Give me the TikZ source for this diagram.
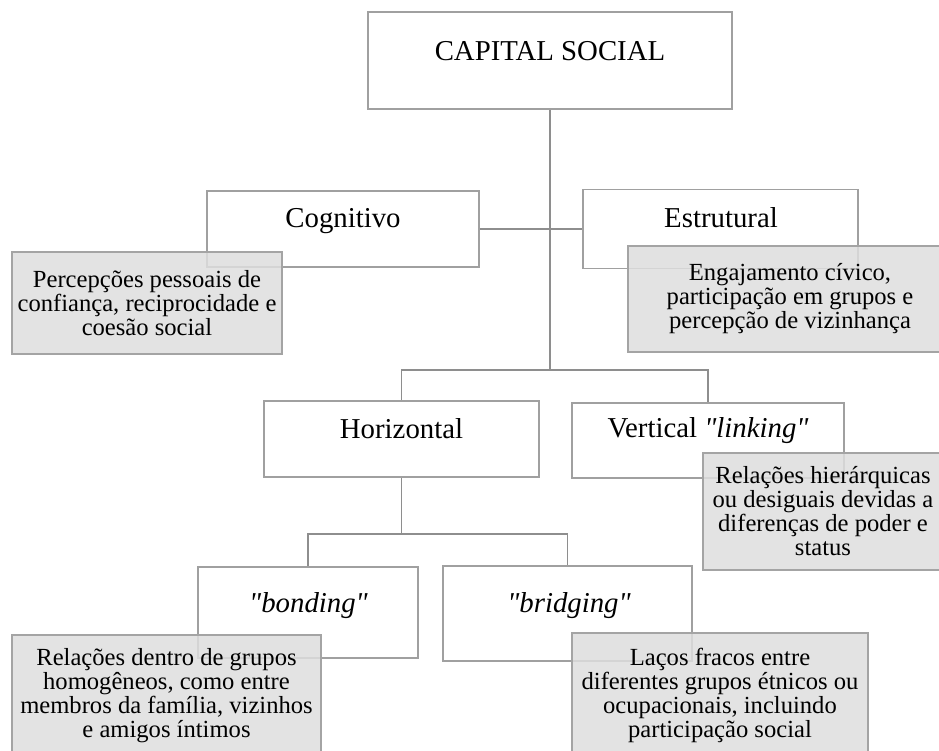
\documentclass[tikz,border=0pt]{standalone}
\usepackage{fontspec}
\setmainfont{Liberation Serif}
\newfontfamily\rawserif{Liberation Serif}
\definecolor{boxborder}{HTML}{A0A0A0}
\definecolor{linecol}{HTML}{8E8E8E}
\definecolor{descfill}{HTML}{DEDEDE}
\definecolor{descborder}{HTML}{A4A4A4}
\newcommand{\qq}[1]{{\rawserif\itshape\symbol{34}#1\symbol{34}}}
\tikzset{
  hbox/.style={draw=boxborder, fill=white, line width=1.8pt, rectangle, inner sep=0pt},
  htext/.style={anchor=base, inner sep=0pt, font=\fontsize{28.8}{30}\selectfont},
  desc/.style={draw=descborder, fill=descfill, fill opacity=0.85, text opacity=1,
    line width=1.8pt, rectangle, inner sep=0pt, align=center,
    font=\fontsize{24.6}{24}\selectfont},
  conn/.style={draw=linecol, line width=1.8pt}
}
\begin{document}
\begin{tikzpicture}[x=1pt,y=-1pt]
\useasboundingbox (0,0) rectangle (939,751);
\clip (0,0) rectangle (939,751);
% heading boxes
\node[hbox, minimum width=364, minimum height=97] (cap) at (550,60.5) {};
\node[hbox, minimum width=272, minimum height=76] (cog) at (343,229) {};
\node[hbox, minimum width=275, minimum height=79] (est) at (720.5,229) {};
\node[hbox, minimum width=275, minimum height=76] (hor) at (401.5,439) {};
\node[hbox, minimum width=272, minimum height=75] (ver) at (708,440.5) {};
\node[hbox, minimum width=220, minimum height=91] (bon) at (308,612.5) {};
\node[hbox, minimum width=249, minimum height=95] (bri) at (567.5,613.5) {};
% connectors
\coordinate (j1) at (550,370);
\coordinate (j2) at (401.5,534);
\draw[conn] (cap.south) -- (j1);
\draw[conn] (hor.north) |- (j1) -| (ver.north);
\draw[conn] (cog.east) -- (est.west);
\draw[conn] (hor.south) -- (j2);
\draw[conn] (bon.north) |- (j2) -| (bri.north);
% heading texts
\node[htext] (captext) at (550,61) {CAPITAL SOCIAL};
\node[htext] (cogtext) at (343,228) {Cognitivo};
\node[htext] (esttext) at (721,228) {Estrutural};
\node[htext] (hortext) at (401.5,438) {Horizontal};
\node[htext] (vertext) at (708,437) {Vertical \qq{linking}};
\node[htext] (bontext) at (308.5,612) {\qq{bonding}};
\node[htext] (britext) at (569,612) {\qq{bridging}};
% description boxes
\node[desc, minimum width=270, minimum height=102] (per) at (147,303)
  {Percepções pessoais de\\confiança, reciprocidade e\\coesão social};
\node[desc, minimum width=324, minimum height=106] (eng) at (790,299)
  {Engajamento cívico,\\participação em grupos e\\percepção de vizinhança};
\node[desc, minimum width=240, minimum height=117] (rhi) at (823,511.5)
  {Relações hierárquicas\\ou desiguais devidas a\\diferenças de poder e\\status};
\node[desc, minimum width=309, minimum height=122] (rdg) at (166.5,696)
  {Relações dentro de grupos\\homogêneos, como entre\\membros da família, vizinhos\\e amigos íntimos};
\node[desc, minimum width=296, minimum height=124] (lac) at (720,695)
  {Laços fracos entre\\diferentes grupos étnicos ou\\ocupacionais, incluindo\\participação social};
\end{tikzpicture}
\end{document}
